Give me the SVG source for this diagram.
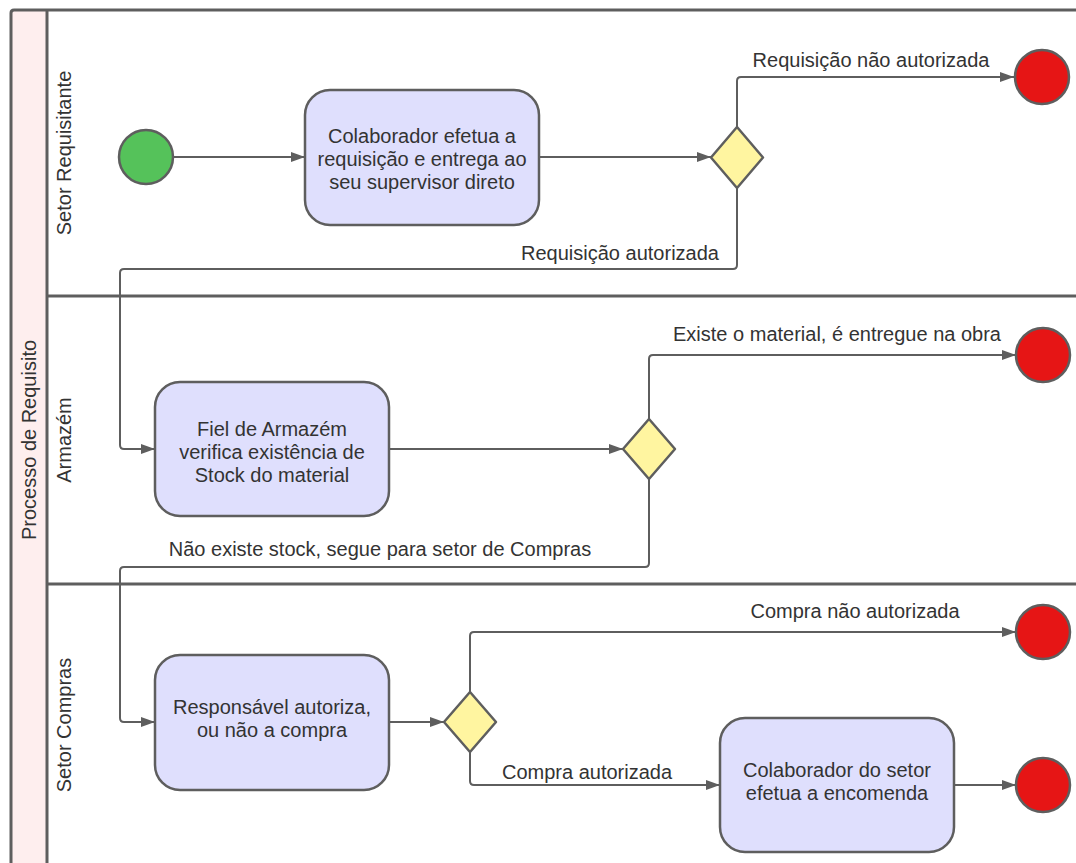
<svg xmlns="http://www.w3.org/2000/svg" width="1076" height="863" viewBox="0 0 1076 863">
<style>
  text { font-family: "Liberation Sans", Arial, sans-serif; font-size: 20px; fill: #333333; }
  .lbl { text-anchor: middle; }
  .frame { fill: none; stroke: #5e5e5e; stroke-width: 3; }
  .task { fill: #dfdffd; stroke: #5e5e5e; stroke-width: 2.5; }
  .gw { fill: #fff5a0; stroke: #5e5e5e; stroke-width: 2.5; stroke-linejoin: round; }
  .start { fill: #55c25a; stroke: #5e5e5e; stroke-width: 2.5; }
  .end { fill: #e61515; stroke: #5e5e5e; stroke-width: 2.5; }
  .conn { fill: none; stroke: #5e5e5e; stroke-width: 2; marker-end: url(#arrow); }
</style>
<defs>
  <marker id="arrow" markerUnits="userSpaceOnUse" markerWidth="15" markerHeight="11" refX="14" refY="5.5" orient="auto">
    <path d="M0,0.5 L14,5.5 L0,10.5 Z" fill="#5e5e5e"/>
  </marker>
</defs>
<rect width="1076" height="863" fill="#ffffff"/>

<g id="pool">
  <path d="M14,10 H1080 V875 H11 V13 Q11,10 14,10 Z" fill="#ffffff" stroke="none"/>
  <rect x="11" y="10" width="36" height="865" fill="#feeeee"/>
  <path class="frame" d="M1080,10 H14 Q11,10 11,13 V875"/>
  <path class="frame" d="M47,10 V875"/>
  <text class="lbl" transform="translate(36,440) rotate(-90)">Processo de Requisito</text>
</g>

<g id="lane-setor-requisitante">
  <text class="lbl" transform="translate(71,153) rotate(-90)">Setor Requisitante</text>
</g>
<g id="lane-armazem">
  <path class="frame" d="M47,296 H1080"/>
  <text class="lbl" transform="translate(71,440) rotate(-90)">Armazém</text>
</g>
<g id="lane-setor-compras">
  <path class="frame" d="M47,584 H1080"/>
  <text class="lbl" transform="translate(71,725) rotate(-90)">Setor Compras</text>
</g>

<g id="connectors">
  <path class="conn" d="M173,157 H305"/>
  <path class="conn" d="M539,157 H711"/>
  <path class="conn" d="M737,127 V81 Q737,77 741,77 H1014"/>
  <path class="conn" d="M737,188 V265 Q737,269 733,269 H124 Q120,269 120,273 V445 Q120,449 124,449 H155"/>
  <path class="conn" d="M389,449 H623"/>
  <path class="conn" d="M649,419 V359 Q649,355 653,355 H1016"/>
  <path class="conn" d="M649,479 V563 Q649,567 645,567 H124 Q120,567 120,571 V718 Q120,722 124,722 H155"/>
  <path class="conn" d="M389,722 H444"/>
  <path class="conn" d="M470,692 V636 Q470,632 474,632 H1016"/>
  <path class="conn" d="M470,752 V781 Q470,785 474,785 H720"/>
  <path class="conn" d="M954,785 H1016"/>
  <text class="lbl" x="871" y="67">Requisição não autorizada</text>
  <text class="lbl" x="620" y="260">Requisição autorizada</text>
  <text class="lbl" x="837" y="341">Existe o material, é entregue na obra</text>
  <text class="lbl" x="380" y="556">Não existe stock, segue para setor de Compras</text>
  <text class="lbl" x="855" y="618">Compra não autorizada</text>
  <text class="lbl" x="587" y="779">Compra autorizada</text>
</g>

<g id="start">
  <circle class="start" cx="146" cy="157" r="27"/>
</g>
<g id="task-requisicao">
  <rect class="task" x="305" y="90" width="234" height="135" rx="25"/>
  <text class="lbl" x="422" y="143">Colaborador efetua a</text>
  <text class="lbl" x="422" y="166">requisição e entrega ao</text>
  <text class="lbl" x="422" y="189">seu supervisor direto</text>
</g>
<g id="gw1">
  <path class="gw" d="M737,127 L763,157.5 L737,188 L711,157.5 Z"/>
</g>
<g id="end1">
  <circle class="end" cx="1042" cy="77" r="27"/>
</g>

<g id="task-armazem">
  <rect class="task" x="155" y="382" width="234" height="134" rx="25"/>
  <text class="lbl" x="272" y="436">Fiel de Armazém</text>
  <text class="lbl" x="272" y="459">verifica existência de</text>
  <text class="lbl" x="272" y="482">Stock do material</text>
</g>
<g id="gw2">
  <path class="gw" d="M649,419 L675,449 L649,479 L623,449 Z"/>
</g>
<g id="end2">
  <circle class="end" cx="1043" cy="355" r="27"/>
</g>

<g id="task-autoriza">
  <rect class="task" x="155" y="655" width="234" height="135" rx="25"/>
  <text class="lbl" x="272" y="714">Responsável autoriza,</text>
  <text class="lbl" x="272" y="737">ou não a compra</text>
</g>
<g id="gw3">
  <path class="gw" d="M470,692 L496,722 L470,752 L444,722 Z"/>
</g>
<g id="end3">
  <circle class="end" cx="1043" cy="632" r="27"/>
</g>
<g id="task-encomenda">
  <rect class="task" x="720" y="718" width="234" height="134" rx="25"/>
  <text class="lbl" x="837" y="777">Colaborador do setor</text>
  <text class="lbl" x="837" y="800">efetua a encomenda</text>
</g>
<g id="end4">
  <circle class="end" cx="1043" cy="785" r="27"/>
</g>
</svg>
